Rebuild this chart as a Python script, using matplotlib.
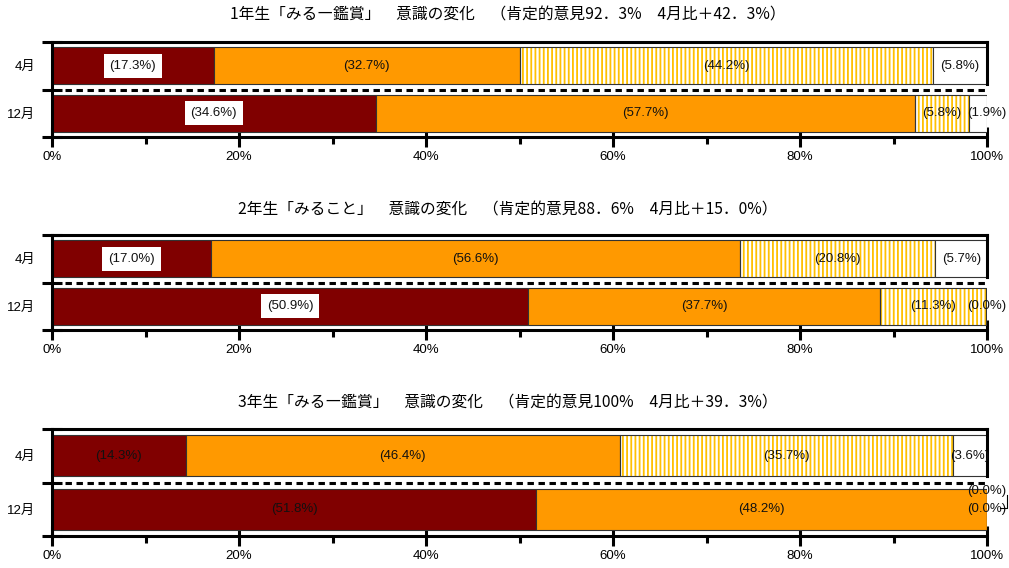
import matplotlib
matplotlib.use("Agg")
import matplotlib.pyplot as plt
from matplotlib.ticker import MultipleLocator, FixedLocator, NullFormatter

plt.rcParams['font.family'] = ['Liberation Sans', 'Noto Sans CJK JP']
plt.rcParams['hatch.linewidth'] = 1.3

# ---------------- data ----------------
MONTHS = ["4月", "12月"]
TITLES = [
    "1年生「みる―鑑賞」　意識の変化　（肯定的意見92．3%　4月比＋42．3%）",
    "2年生「みること」　意識の変化　（肯定的意見88．6%　4月比＋15．0%）",
    "3年生「みる―鑑賞」　意識の変化　（肯定的意見100%　4月比＋39．3%）",
]
G1_APR = [17.3, 32.7, 44.2, 5.8]
G1_DEC = [34.6, 57.7, 5.8, 1.9]
G2_APR = [17.0, 56.6, 20.8, 5.7]
G2_DEC = [50.9, 37.7, 11.3, 0.0]
G3_APR = [14.3, 46.4, 35.7, 3.6]
G3_DEC = [51.8, 48.2, 0.0, 0.0]
PANELS = [(G1_APR, G1_DEC), (G2_APR, G2_DEC), (G3_APR, G3_DEC)]

COLORS = ["#800000", "#FF9900", "white", "white"]
HATCH_COLOR = "#FFC000"
EDGE = "#333333"

W, H = 1009, 568
# panel frames in pixels: top, bottom
FRAMES = [(42, 137), (235, 330), (429, 536)]
TITLE_Y = [15, 210, 403]
BOXED = [True, True, False]

fig = plt.figure(figsize=(W / 100, H / 100), dpi=100)
LW = 2.2

for p, (apr, dec) in enumerate(PANELS):
    top, bot = FRAMES[p]
    ax = fig.add_axes([52 / W, 1 - bot / H, 935 / W, (bot - top) / H])
    ax.set_xlim(0, 100)
    ax.set_ylim(1.5, -0.5)

    for row, vals in enumerate([apr, dec]):
        left = 0.0
        for j, w in enumerate(vals):
            if j == 2:
                ax.barh(row, w, left=left, height=0.77, color="white",
                        edgecolor=HATCH_COLOR, hatch="||||", linewidth=0, zorder=2)
                ax.barh(row, w, left=left, height=0.77, fill=False,
                        edgecolor=EDGE, linewidth=0.8, zorder=3)
            else:
                ax.barh(row, w, left=left, height=0.77, color=COLORS[j],
                        edgecolor=EDGE, linewidth=0.8, zorder=3)
            cx = left + w / 2
            dy = 0
            if w < 3:
                cx = 100
                if j + 1 < len(vals) and vals[j + 1] < 3:
                    dy = -0.35
            kw = {}
            if j == 0 and BOXED[p]:
                kw["bbox"] = dict(boxstyle="square,pad=0.45", fc="white", ec="none")
            ax.text(cx, row + dy, "(%.1f%%)" % w, ha="center", va="center",
                    fontsize=9.5, color="#111111", zorder=5, clip_on=False, **kw)
            left += w

    # small leader line for the stacked zero labels
    if dec[2] < 3 and dec[3] < 3:
        ax.plot([101.4, 102.1, 102.1], [0.97, 0.97, 0.73], color="black",
                lw=0.8, clip_on=False, zorder=5)

    # dashed separator between the two months
    ax.plot([1.4, 100], [0.5, 0.5], color="black", lw=LW,
            linestyle=(0, (2.1, 1.5)), zorder=4, clip_on=False)
    # right border only around the April chart
    ax.plot([100, 100], [-0.5, 0.385], color="black", lw=LW, clip_on=False, zorder=4)

    for s in ["left", "top", "bottom"]:
        ax.spines[s].set_linewidth(LW)
        ax.spines[s].set_zorder(6)
    ax.spines["right"].set_visible(False)

    ax.xaxis.set_major_locator(MultipleLocator(20))
    ax.xaxis.set_minor_locator(MultipleLocator(10))
    ax.xaxis.set_major_formatter(lambda v, pos: "%d%%" % v)
    ax.tick_params(axis="x", which="major", direction="inout", length=14, width=LW,
                   labelsize=9.5, pad=3)
    ax.tick_params(axis="x", which="minor", direction="out", length=5, width=LW)

    ax.yaxis.set_major_locator(FixedLocator([-0.5, 0.5, 1.5]))
    ax.yaxis.set_major_formatter(NullFormatter())
    ax.yaxis.set_minor_locator(FixedLocator([0, 1]))
    ax.set_yticklabels(MONTHS, minor=True)
    ax.tick_params(axis="y", which="major", direction="inout", length=14.4, width=LW)
    ax.tick_params(axis="y", which="minor", length=0, labelsize=9.5, pad=12)

    fig.text(0.503, 1 - TITLE_Y[p] / H, TITLES[p], ha="center", va="center",
             fontsize=11.3, family=["Noto Sans CJK JP"])

fig.savefig("out.png", dpi=100)
